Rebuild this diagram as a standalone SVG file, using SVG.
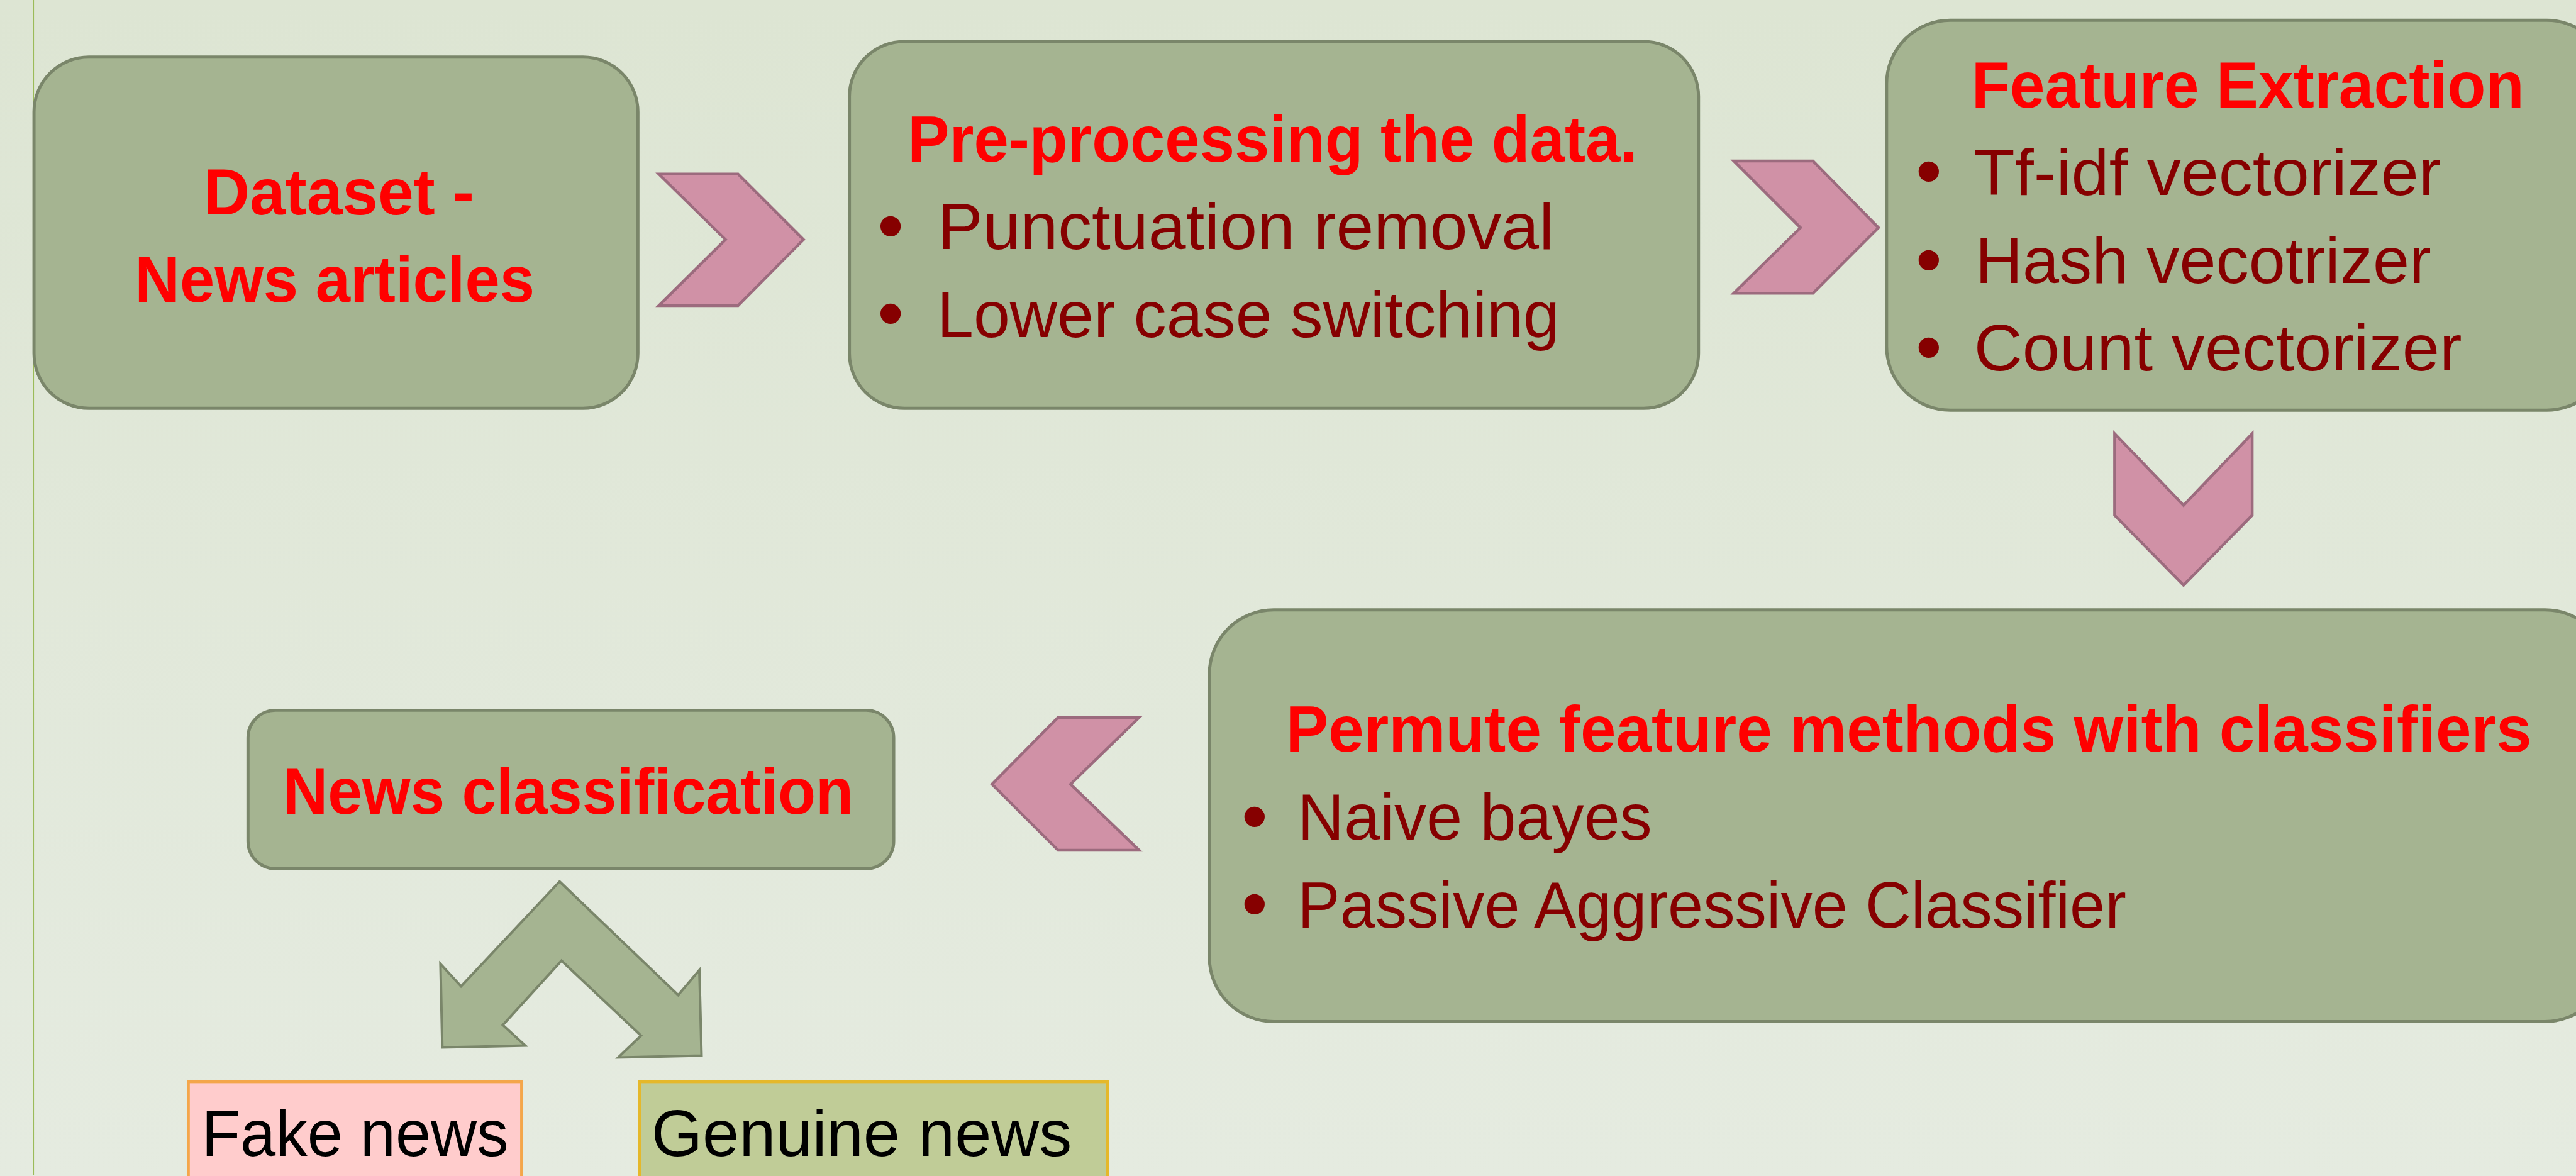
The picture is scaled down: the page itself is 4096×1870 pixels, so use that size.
<svg xmlns="http://www.w3.org/2000/svg" width="4096" height="1870" viewBox="0 0 4096 1870">
<defs>
<linearGradient id="bg" x1="0" y1="0" x2="0" y2="1">
<stop offset="0" stop-color="#dde5d3"/>
<stop offset="1" stop-color="#e5ebe0"/>
</linearGradient>
<style>
.box{fill:#a5b491;stroke:#7a866a;stroke-width:5}
.chev{fill:#d091a6;stroke:#9c6b7e;stroke-width:4.5;stroke-linejoin:miter}
.split{fill:#a5b491;stroke:#7a866a;stroke-width:4}
.title{font-family:"Liberation Sans",Arial,sans-serif;font-weight:bold;font-size:104px;fill:#ff0000}
.item{font-family:"Liberation Sans",Arial,sans-serif;font-size:104px;fill:#860000}
.bul{font-family:"Liberation Sans",Arial,sans-serif;font-size:120px;fill:#860000;text-anchor:middle}
.out{font-family:"Liberation Sans",Arial,sans-serif;font-size:104px;fill:#000000}
</style>
</defs>
<rect x="0" y="0" width="4096" height="1870" fill="url(#bg)"/>
<g transform="scale(0.992)">
<line x1="53.5" y1="0" x2="53.5" y2="1884" stroke="#9bbb59" stroke-width="2"/>

<g id="connectors">
<polygon class="chev" points="1056,279 1183,279 1288,384 1183,490 1056,490 1163,384"/>
<polygon class="chev" points="2779,258 2906,258 3011,365 2906,470 2779,470 2886,365"/>
<polygon class="chev" points="3389.5,695 3500,810 3610,695 3610,826 3500,938 3389.5,826"/>
<polygon class="chev" points="1826,1150 1696,1150 1590,1257 1696,1363 1826,1363 1716,1257"/>
<polygon class="split" points="897,1413 1087,1595 1121,1555 1124.5,1692 991,1695 1027.5,1660 900,1540 806,1643 842,1676 709,1679 706,1545 739,1581"/>
</g>

<g id="dataset">
<rect class="box" x="54.5" y="91.5" width="968" height="563" rx="88" ry="88"/>
<text class="title" x="326" y="344" textLength="434" lengthAdjust="spacingAndGlyphs">Dataset -</text>
<text class="title" x="216" y="483.5" textLength="641" lengthAdjust="spacingAndGlyphs">News articles</text>
</g>

<g id="preprocessing">
<rect class="box" x="1361.5" y="66.5" width="1361" height="588" rx="88" ry="88"/>
<text class="title" x="1455" y="259" textLength="1170" lengthAdjust="spacingAndGlyphs">Pre-processing the data.</text>
<text class="bul" x="1427.5" y="402">•</text>
<text class="item" x="1503" y="399.5" textLength="988" lengthAdjust="spacingAndGlyphs">Punctuation removal</text>
<text class="bul" x="1427.5" y="542.5">•</text>
<text class="item" x="1502" y="540" textLength="998" lengthAdjust="spacingAndGlyphs">Lower case switching</text>
</g>

<g id="feature-extraction">
<rect class="box" x="3024" y="32.5" width="1160" height="625" rx="102" ry="102"/>
<text class="title" x="3160" y="172" textLength="886" lengthAdjust="spacingAndGlyphs">Feature Extraction</text>
<text class="bul" x="3091.5" y="315">•</text>
<text class="item" x="3163" y="312.5" textLength="750" lengthAdjust="spacingAndGlyphs">Tf-idf vectorizer</text>
<text class="bul" x="3091.5" y="456.5">•</text>
<text class="item" x="3166" y="454" textLength="731" lengthAdjust="spacingAndGlyphs">Hash vecotrizer</text>
<text class="bul" x="3091.5" y="596.5">•</text>
<text class="item" x="3164" y="594" textLength="782" lengthAdjust="spacingAndGlyphs">Count vectorizer</text>
</g>

<g id="permute">
<rect class="box" x="1938.5" y="977.5" width="2244" height="660" rx="103" ry="103"/>
<text class="title" x="2061" y="1205" textLength="1997" lengthAdjust="spacingAndGlyphs">Permute feature methods with classifiers</text>
<text class="bul" x="2011" y="1348.5">•</text>
<text class="item" x="2080" y="1346" textLength="568" lengthAdjust="spacingAndGlyphs">Naive bayes</text>
<text class="bul" x="2011" y="1489">•</text>
<text class="item" x="2080" y="1486.6" textLength="1328" lengthAdjust="spacingAndGlyphs">Passive Aggressive Classifier</text>
</g>

<g id="news-classification">
<rect class="box" x="397.5" y="1138.5" width="1035" height="254" rx="44" ry="44"/>
<text class="title" x="454" y="1304" textLength="914" lengthAdjust="spacingAndGlyphs">News classification</text>
</g>

<g id="fake-news">
<rect x="302" y="1734" width="534" height="200" fill="#ffcccc" stroke="#f4a64a" stroke-width="4.5"/>
<text class="out" x="323" y="1853" textLength="492" lengthAdjust="spacingAndGlyphs">Fake news</text>
</g>

<g id="genuine-news">
<rect x="1025" y="1734" width="750" height="200" fill="#c0cc97" stroke="#e5b82a" stroke-width="4.5"/>
<text class="out" x="1044" y="1853" textLength="674" lengthAdjust="spacingAndGlyphs">Genuine news</text>
</g>
</g>
</svg>
